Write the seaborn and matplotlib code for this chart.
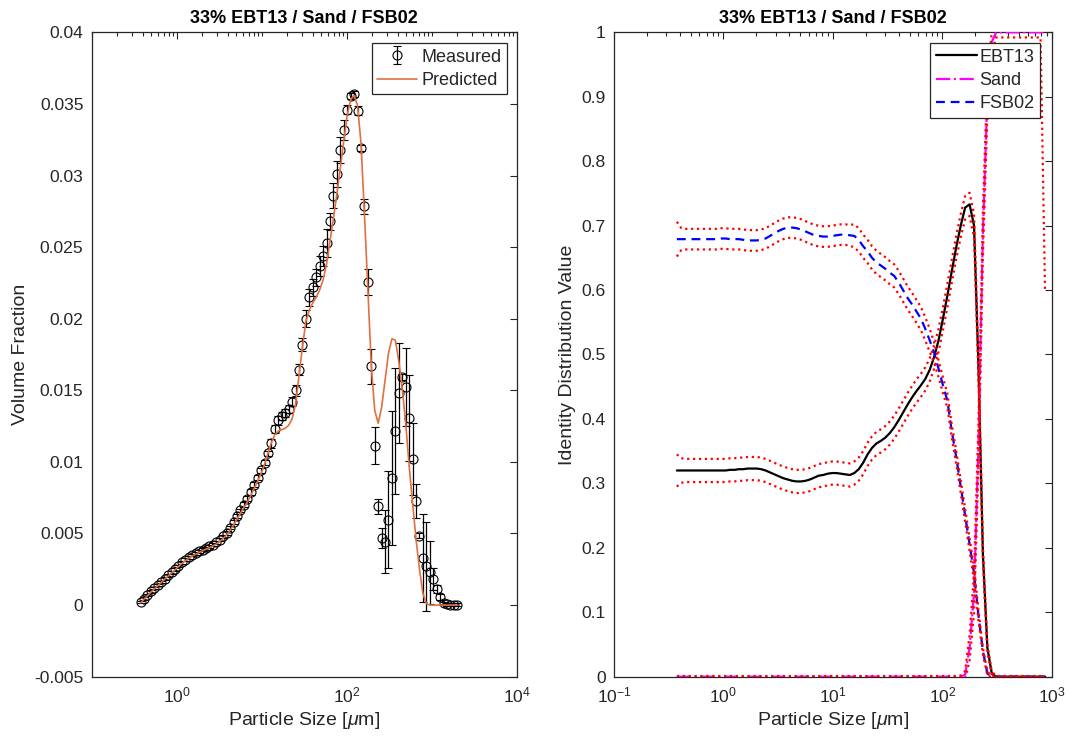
import matplotlib
matplotlib.use("Agg")
import numpy as np
import pandas as pd
import matplotlib.pyplot as plt
from matplotlib.ticker import FixedLocator, FixedFormatter, FuncFormatter, NullFormatter
import seaborn as sns

# ---------------- data ----------------
title_text = "33% EBT13 / Sand / FSB02"

sizes = [0.375, 0.4116, 0.4518, 0.4960, 0.5445, 0.5977, 0.6561, 0.7203, 0.7907, 0.8680,
         0.9531, 1.046, 1.149, 1.261, 1.384, 1.520, 1.668, 1.831, 2.010, 2.207,
         2.422, 2.659, 2.919, 3.204, 3.518, 3.861, 4.239, 4.653, 5.108, 5.607,
         6.156, 6.757, 7.418, 8.143, 8.939, 9.815, 10.78, 11.83, 12.98, 14.25,
         15.65, 17.18, 18.86, 20.70, 22.72, 24.94, 27.38, 30.06, 33.00, 36.22,
         39.77, 43.65, 47.92, 52.60, 57.75, 63.39, 69.59, 76.39, 83.86, 92.06,
         101.1, 111.0, 121.8, 133.7, 146.8, 161.1, 176.9, 194.2, 213.1, 234.0,
         256.9, 282.0, 309.5, 339.8, 373.0, 409.5, 449.5, 493.4, 541.7, 594.6,
         652.8, 716.6, 786.6, 863.5, 947.9, 1041, 1142, 1254, 1377, 1511,
         1659, 1821, 1999]

measured = [0.00020, 0.00045, 0.00070, 0.00095, 0.00118, 0.00140, 0.00163, 0.00185, 0.00207, 0.00228,
            0.00250, 0.00273, 0.00298, 0.00318, 0.00335, 0.00350, 0.00362, 0.00375, 0.00387, 0.00398,
            0.00410, 0.00422, 0.00438, 0.00458, 0.00480, 0.00503, 0.00540, 0.00580, 0.00622, 0.00662,
            0.00702, 0.00744, 0.00790, 0.00840, 0.00890, 0.00940, 0.00995, 0.01060, 0.01130, 0.01230,
            0.01290, 0.01320, 0.01340, 0.01370, 0.01420, 0.01500, 0.01644, 0.01818, 0.02000, 0.02150,
            0.02220, 0.02290, 0.02370, 0.02440, 0.02529, 0.02680, 0.02860, 0.03010, 0.03180, 0.03320,
            0.03460, 0.03555, 0.03570, 0.03452, 0.03192, 0.02784, 0.02256, 0.01667, 0.01113, 0.00689,
            0.00468, 0.00441, 0.00596, 0.00888, 0.01218, 0.01481, 0.01593, 0.01523, 0.01307, 0.01022,
            0.00729, 0.00485, 0.00329, 0.00270, 0.00228, 0.00182, 0.00112, 0.00054, 0.00015, 0.00005,
            0.00004, 0.00003, 0.00003]

measured_std = [0.00008, 0.00008, 0.00008, 0.00008, 0.00008, 0.00008, 0.00008, 0.00008, 0.00008, 0.00008,
                0.0001, 0.0001, 0.0001, 0.0001, 0.0001, 0.0001, 0.0001, 0.0001, 0.0001, 0.0001,
                0.00012, 0.00012, 0.00012, 0.00012, 0.00012, 0.00012, 0.00012, 0.00012, 0.00012, 0.00012,
                0.00018, 0.00018, 0.00018, 0.00018, 0.00018, 0.00018, 0.00018, 0.00018, 0.0003, 0.0003,
                0.0003, 0.0003, 0.0003, 0.0003, 0.0003, 0.0004, 0.0004, 0.00046, 0.0006, 0.0006,
                0.0006, 0.0006, 0.0007, 0.0007, 0.0010, 0.0006, 0.0009, 0.0009, 0.0009, 0.0007,
                0.0003, 0.0002, 0.0002, 0.0003, 0.0002, 0.0005, 0.0009, 0.0012, 0.0013, 0.0005,
                0.0007, 0.0022, 0.0034, 0.0047, 0.0044, 0.0035, 0.0002, 0.0027, 0.0030, 0.0025,
                0.0012, 0.0002, 0.0031, 0.0031, 0.0022, 0.0008, 0.0003, 0.0002, 0.0001, 0.0001,
                0.0001, 0.0001, 0.0001]

predicted = [0.00015, 0.00040, 0.00065, 0.00090, 0.00113, 0.00135, 0.00158, 0.00180, 0.00202, 0.00224,
             0.00246, 0.00269, 0.00291, 0.00310, 0.00327, 0.00342, 0.00355, 0.00367, 0.00379, 0.00390,
             0.00401, 0.00413, 0.00427, 0.00445, 0.00466, 0.00490, 0.00522, 0.00560, 0.00600, 0.00640,
             0.00680, 0.00720, 0.00765, 0.00815, 0.00865, 0.00920, 0.00980, 0.01060, 0.01135, 0.01190,
             0.01215, 0.01225, 0.01235, 0.01255, 0.01300, 0.01400, 0.01600, 0.01800, 0.01980, 0.02060,
             0.02110, 0.02150, 0.02200, 0.02270, 0.02380, 0.02540, 0.02700, 0.02870, 0.03050, 0.03240,
             0.03420, 0.03530, 0.03560, 0.03490, 0.03230, 0.02740, 0.02210, 0.01670, 0.01360, 0.01270,
             0.01380, 0.01570, 0.01760, 0.01860, 0.01850, 0.01700, 0.01510, 0.01270, 0.00970, 0.00710,
             0.00460, 0.00250, 0.00080, 0.00010, 0.0, 0.0, 0.0, 0.0, 0.0, 0.0,
             0.0, 0.0, 0.0]

# identity distributions (first 84 size classes)
ebt13 = [0.320, 0.320, 0.320, 0.320, 0.320, 0.320, 0.320, 0.320, 0.320, 0.320,
         0.320, 0.320, 0.321, 0.321, 0.322, 0.322, 0.323, 0.323, 0.323, 0.322,
         0.320, 0.317, 0.314, 0.311, 0.308, 0.306, 0.304, 0.303, 0.303, 0.304,
         0.306, 0.309, 0.312, 0.313, 0.315, 0.316, 0.316, 0.315, 0.314, 0.313,
         0.316, 0.322, 0.332, 0.345, 0.355, 0.362, 0.366, 0.371, 0.378, 0.387,
         0.398, 0.410, 0.422, 0.433, 0.443, 0.452, 0.462, 0.476, 0.496, 0.522,
         0.556, 0.592, 0.630, 0.667, 0.700, 0.728, 0.733, 0.700, 0.480, 0.190,
         0.045, 0.005, 0.0, 0.0, 0.0, 0.0, 0.0, 0.0, 0.0, 0.0,
         0.0, 0.0, 0.0, 0.0]
ebt13_ci = [0.025, 0.019, 0.018, 0.018, 0.018, 0.018, 0.018, 0.018, 0.018, 0.018,
            0.018, 0.018, 0.018, 0.018, 0.018, 0.018, 0.018, 0.018, 0.018, 0.018,
            0.018, 0.018, 0.018, 0.018, 0.018, 0.018, 0.018, 0.018, 0.018, 0.018,
            0.018, 0.018, 0.018, 0.018, 0.018, 0.018, 0.018, 0.018, 0.018, 0.018,
            0.018, 0.018, 0.018, 0.018, 0.018, 0.018, 0.018, 0.018, 0.018, 0.018,
            0.018, 0.018, 0.018, 0.018, 0.018, 0.018, 0.018, 0.018, 0.018, 0.018,
            0.018, 0.018, 0.018, 0.018, 0.018, 0.018, 0.018, 0.018, 0.016, 0.012,
            0.006, 0.003, 0.001, 0.001, 0.001, 0.001, 0.001, 0.001, 0.001, 0.001,
            0.001, 0.001, 0.001, 0.001]

sand = [0.0, 0.0, 0.0, 0.0, 0.0, 0.0, 0.0, 0.0, 0.0, 0.0,
        0.0, 0.0, 0.0, 0.0, 0.0, 0.0, 0.0, 0.0, 0.0, 0.0,
        0.0, 0.0, 0.0, 0.0, 0.0, 0.0, 0.0, 0.0, 0.0, 0.0,
        0.0, 0.0, 0.0, 0.0, 0.0, 0.0, 0.0, 0.0, 0.0, 0.0,
        0.0, 0.0, 0.0, 0.0, 0.0, 0.0, 0.0, 0.0, 0.0, 0.0,
        0.0, 0.0, 0.0, 0.0, 0.0, 0.0, 0.0, 0.0, 0.0, 0.0,
        0.0, 0.0, 0.0, 0.0, 0.0, 0.003, 0.045, 0.130, 0.360, 0.690,
        0.900, 0.985, 1.0, 1.0, 1.0, 1.0, 1.0, 1.0, 1.0, 1.0,
        1.0, 1.0, 1.0, 1.0]
sand_ci = [0.001, 0.001, 0.001, 0.001, 0.001, 0.001, 0.001, 0.001, 0.001, 0.001,
           0.001, 0.001, 0.001, 0.001, 0.001, 0.001, 0.001, 0.001, 0.001, 0.001,
           0.001, 0.001, 0.001, 0.001, 0.001, 0.001, 0.001, 0.001, 0.001, 0.001,
           0.001, 0.001, 0.001, 0.001, 0.001, 0.001, 0.001, 0.001, 0.001, 0.001,
           0.001, 0.001, 0.001, 0.001, 0.001, 0.001, 0.001, 0.001, 0.001, 0.001,
           0.001, 0.001, 0.001, 0.001, 0.001, 0.001, 0.001, 0.001, 0.001, 0.001,
           0.001, 0.001, 0.001, 0.001, 0.002, 0.006, 0.020, 0.030, 0.035, 0.035,
           0.030, 0.015, 0.008, 0.008, 0.008, 0.008, 0.008, 0.008, 0.008, 0.008,
           0.008, 0.008, 0.008, 0.400]

fsb02 = [0.679, 0.679, 0.679, 0.679, 0.679, 0.679, 0.679, 0.679, 0.679, 0.679,
         0.680, 0.680, 0.679, 0.679, 0.679, 0.678, 0.677, 0.677, 0.677, 0.678,
         0.680, 0.684, 0.688, 0.692, 0.695, 0.697, 0.697, 0.696, 0.694, 0.691,
         0.688, 0.685, 0.684, 0.683, 0.683, 0.684, 0.685, 0.686, 0.686, 0.685,
         0.684, 0.678, 0.668, 0.660, 0.650, 0.643, 0.638, 0.633, 0.627, 0.622,
         0.612, 0.600, 0.588, 0.578, 0.567, 0.556, 0.540, 0.522, 0.503, 0.478,
         0.452, 0.428, 0.380, 0.340, 0.295, 0.250, 0.205, 0.160, 0.095, 0.040,
         0.005, 0.0, 0.0, 0.0, 0.0, 0.0, 0.0, 0.0, 0.0, 0.0,
         0.0, 0.0, 0.0, 0.0]
fsb02_ci = [0.027, 0.017, 0.016, 0.016, 0.016, 0.016, 0.016, 0.016, 0.016, 0.016,
            0.016, 0.016, 0.016, 0.016, 0.016, 0.016, 0.016, 0.016, 0.016, 0.016,
            0.016, 0.016, 0.016, 0.016, 0.016, 0.016, 0.016, 0.016, 0.016, 0.016,
            0.016, 0.016, 0.016, 0.016, 0.016, 0.016, 0.016, 0.016, 0.016, 0.016,
            0.018, 0.018, 0.018, 0.018, 0.018, 0.018, 0.018, 0.018, 0.018, 0.018,
            0.018, 0.018, 0.018, 0.018, 0.018, 0.018, 0.018, 0.018, 0.016, 0.013,
            0.012, 0.011, 0.010, 0.010, 0.010, 0.010, 0.010, 0.010, 0.008, 0.005,
            0.003, 0.001, 0.001, 0.001, 0.001, 0.001, 0.001, 0.001, 0.001, 0.001,
            0.001, 0.001, 0.001, 0.001]

left_yticks = [-0.005, 0.0, 0.005, 0.01, 0.015, 0.02, 0.025, 0.03, 0.035, 0.04]
left_yticklabels = ["-0.005", "0", "0.005", "0.01", "0.015", "0.02", "0.025", "0.03", "0.035", "0.04"]
right_yticks = [0.0, 0.1, 0.2, 0.3, 0.4, 0.5, 0.6, 0.7, 0.8, 0.9, 1.0]
right_yticklabels = ["0", "0.1", "0.2", "0.3", "0.4", "0.5", "0.6", "0.7", "0.8", "0.9", "1"]

# ---------------- style ----------------
sns.set_style("white")
plt.rcParams["font.family"] = ["Liberation Sans", "DejaVu Sans"]
plt.rcParams["mathtext.fontset"] = "custom"
plt.rcParams["mathtext.rm"] = "Liberation Sans"
plt.rcParams["mathtext.it"] = "Liberation Sans:italic"
plt.rcParams["mathtext.default"] = "regular"

AX_COLOR = "#262626"
TICK_FS = 12.6
LABEL_FS = 14
TITLE_FS = 13
LEG_FS = 13

fig = plt.figure(figsize=(10.68, 7.41), dpi=100)
ax1 = fig.add_axes([0.0859, 0.0868, 0.398, 0.8696])
ax2 = fig.add_axes([0.5749, 0.0868, 0.4101, 0.8696])

for ax in (ax1, ax2):
    ax.set_xscale("log")


def style_axes(ax):
    for sp in ax.spines.values():
        sp.set_color(AX_COLOR)
        sp.set_linewidth(0.9)
        sp.set_visible(True)
    ax.tick_params(which="both", direction="in", top=True, right=True,
                   color=AX_COLOR, labelcolor=AX_COLOR, width=0.8,
                   labelsize=TICK_FS, pad=6)
    ax.tick_params(which="major", length=5)
    ax.tick_params(which="minor", length=2.8)
    ax.grid(False)


def minor_log_ticks(lo_exp, hi_exp, majors):
    vals = []
    for e in range(lo_exp, hi_exp):
        for m in range(1, 10):
            v = m * 10.0 ** e
            if not any(abs(v - mj) / mj < 1e-9 for mj in majors):
                vals.append(v)
    return vals


pow_fmt = FuncFormatter(lambda v, p: r"$10^{%d}$" % int(round(np.log10(v))))

# ---------------- left panel ----------------
eb = ax1.errorbar(sizes, measured, yerr=measured_std, fmt="o", mfc="none",
                  mec="black", ecolor="black", color="black", ms=6.5, mew=0.8,
                  elinewidth=0.9, capsize=2.6, capthick=0.9, zorder=2)
df_pred = pd.DataFrame({"size": sizes, "vf": predicted})
sns.lineplot(data=df_pred, x="size", y="vf", ax=ax1, color="#E0703F",
             lw=1.2, zorder=3, legend=False)
pred_line = ax1.lines[-1]

ax1.set_xlim(0.1, 1e4)
ax1.set_ylim(-0.005, 0.04)
majors1 = [1.0, 100.0, 1e4]
ax1.xaxis.set_major_locator(FixedLocator(majors1))
ax1.xaxis.set_major_formatter(pow_fmt)
ax1.xaxis.set_minor_locator(FixedLocator(minor_log_ticks(-1, 4, majors1)))
ax1.xaxis.set_minor_formatter(NullFormatter())
ax1.yaxis.set_major_locator(FixedLocator(left_yticks))
ax1.yaxis.set_major_formatter(FixedFormatter(left_yticklabels))
style_axes(ax1)
ax1.set_xlabel(r"Particle Size [$\mathit{\mu}$m]", fontsize=LABEL_FS, color=AX_COLOR)
ax1.set_ylabel("Volume Fraction", fontsize=LABEL_FS, color=AX_COLOR)
ax1.set_title(title_text, fontsize=TITLE_FS, fontweight="bold", color="black", pad=7)

leg1 = ax1.legend([eb, pred_line], ["Measured", "Predicted"], loc="upper right",
                  bbox_to_anchor=(0.9765, 0.983), borderaxespad=0, fontsize=LEG_FS,
                  frameon=True, fancybox=False, edgecolor=AX_COLOR, framealpha=1,
                  handlelength=2.2, handletextpad=0.25, borderpad=0.3, labelspacing=0.35)
leg1.get_frame().set_linewidth(0.9)

# ---------------- right panel ----------------
n_id = len(ebt13)
x_id = sizes[:n_id]
df_id = pd.DataFrame({"size": x_id, "EBT13": ebt13, "Sand": sand, "FSB02": fsb02,
                      "EBT13_ci": ebt13_ci, "Sand_ci": sand_ci, "FSB02_ci": fsb02_ci})

sns.lineplot(data=df_id, x="size", y="EBT13", ax=ax2, color="black", lw=1.6, legend=False, zorder=3)
h_ebt = ax2.lines[-1]
sns.lineplot(data=df_id, x="size", y="Sand", ax=ax2, color="magenta", lw=1.6,
             linestyle="-.", legend=False, zorder=3)
h_sand = ax2.lines[-1]
sns.lineplot(data=df_id, x="size", y="FSB02", ax=ax2, color="blue", lw=1.6,
             linestyle="--", legend=False, zorder=3)
h_fsb = ax2.lines[-1]
h_fsb.set_dashes([4.0, 2.6])

for name in ["EBT13", "Sand", "FSB02"]:
    for sign in (1, -1):
        df_b = pd.DataFrame({"size": df_id["size"],
                             "v": df_id[name] + sign * df_id[name + "_ci"]})
        sns.lineplot(data=df_b, x="size", y="v", ax=ax2, color="red", lw=1.6,
                     linestyle=":", legend=False, zorder=4)

ax2.set_xlim(0.1, 1e3)
ax2.set_ylim(0, 1)
majors2 = [0.1, 1.0, 10.0, 100.0, 1000.0]
ax2.xaxis.set_major_locator(FixedLocator(majors2))
ax2.xaxis.set_major_formatter(pow_fmt)
ax2.xaxis.set_minor_locator(FixedLocator(minor_log_ticks(-1, 3, majors2)))
ax2.xaxis.set_minor_formatter(NullFormatter())
ax2.yaxis.set_major_locator(FixedLocator(right_yticks))
ax2.yaxis.set_major_formatter(FixedFormatter(right_yticklabels))
style_axes(ax2)
ax2.set_xlabel(r"Particle Size [$\mathit{\mu}$m]", fontsize=LABEL_FS, color=AX_COLOR)
ax2.set_ylabel("Identity Distribution Value", fontsize=LABEL_FS, color=AX_COLOR)
ax2.set_title(title_text, fontsize=TITLE_FS, fontweight="bold", color="black", pad=7)

leg2 = ax2.legend([h_ebt, h_sand, h_fsb], ["EBT13", "Sand", "FSB02"], loc="upper right",
                  bbox_to_anchor=(0.9726, 0.983), borderaxespad=0, fontsize=LEG_FS,
                  frameon=True, fancybox=False, edgecolor=AX_COLOR, framealpha=1,
                  handlelength=2.3, handletextpad=0.12, borderpad=0.3, labelspacing=0.35)
leg2.get_frame().set_linewidth(0.9)

fig.savefig("out.png", dpi=100)
